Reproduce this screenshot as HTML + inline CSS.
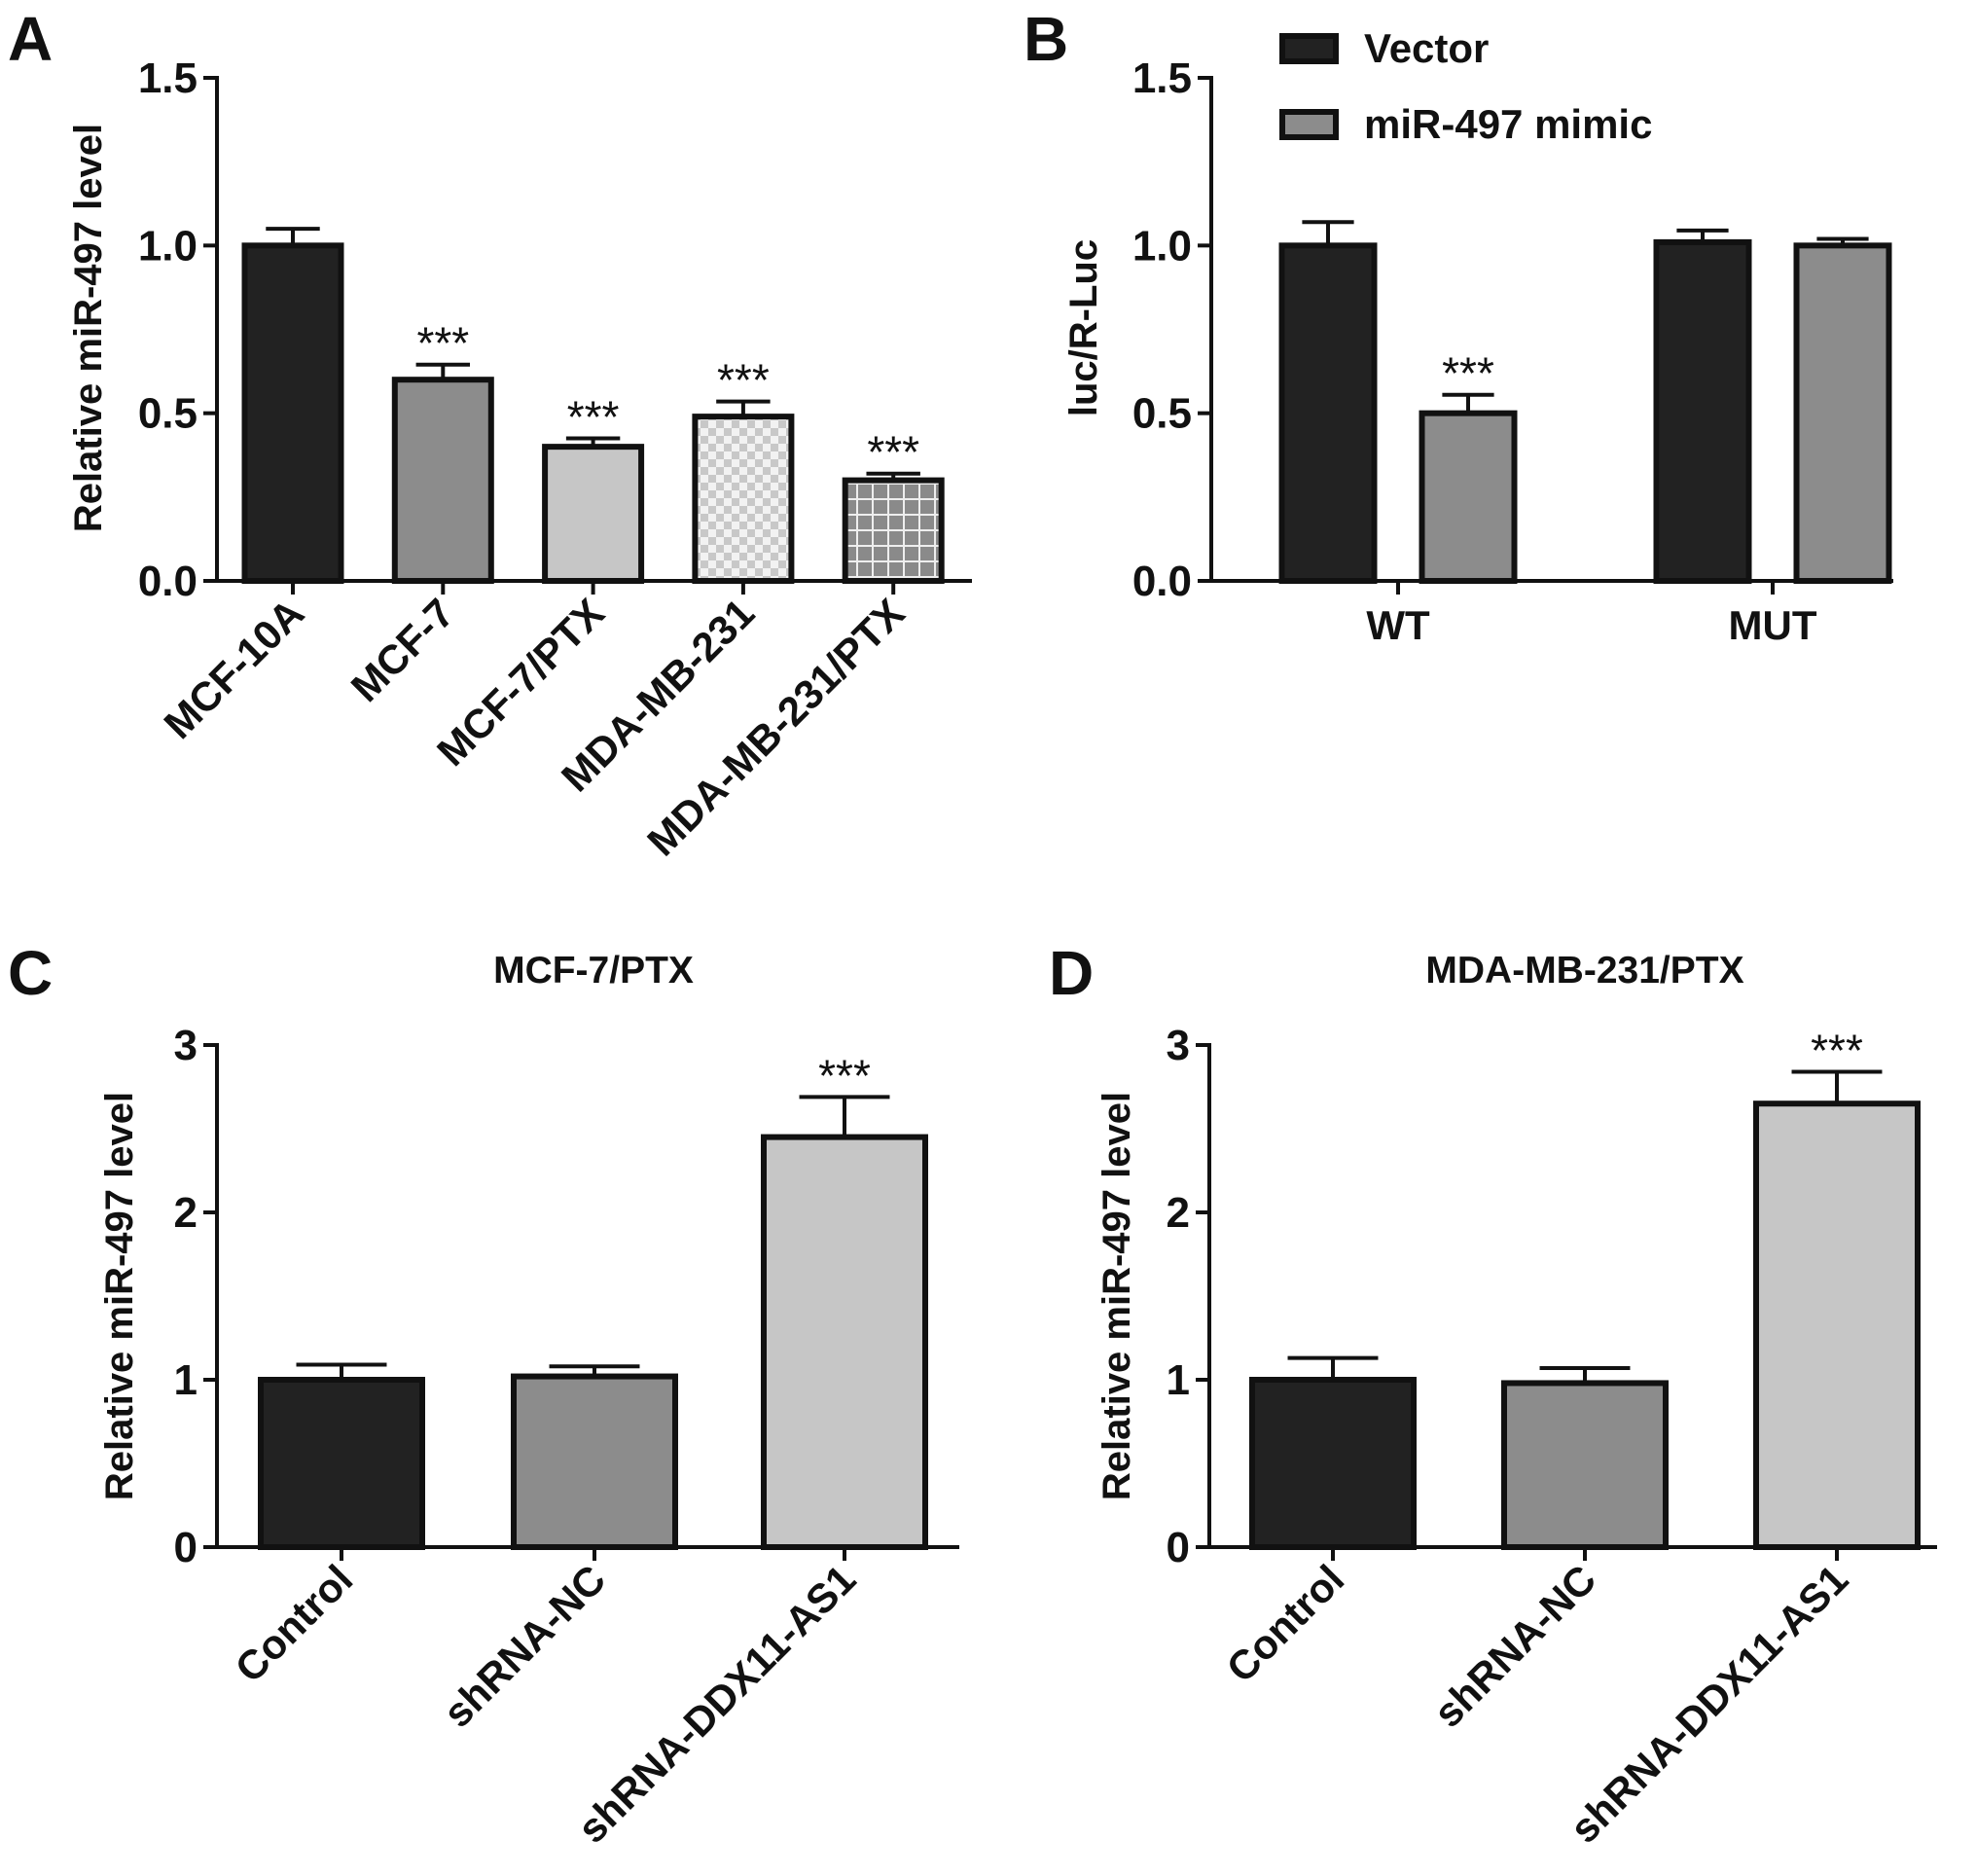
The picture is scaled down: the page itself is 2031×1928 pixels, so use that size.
<!DOCTYPE html>
<html><head><meta charset="utf-8"><style>
html,body{margin:0;padding:0;background:#fff;}
svg{display:block;font-family:"Liberation Sans",Arial,sans-serif;}
</style></head><body>
<svg id="fig" width="2031" height="1928" viewBox="0 0 2031 1928" xmlns="http://www.w3.org/2000/svg">
<defs>
<pattern id="checker" width="16" height="16" patternUnits="userSpaceOnUse">
<rect width="16" height="16" fill="#f2f2f2"/><rect width="8" height="8" fill="#c8c8c8"/><rect x="8" y="8" width="8" height="8" fill="#c8c8c8"/>
</pattern>
<pattern id="grid" width="16" height="16" patternUnits="userSpaceOnUse">
<rect width="16" height="16" fill="#8a8a8a"/><rect x="0" y="0" width="2" height="16" fill="#eee"/><rect x="0" y="0" width="16" height="2" fill="#eee"/>
</pattern>
</defs>
</svg>
<script>
// Panel A data
const aCategories = ["MCF-10A","MCF-7","MCF-7/PTX","MDA-MB-231","MDA-MB-231/PTX"];
const aValues = [1.0, 0.60, 0.40, 0.49, 0.30];
const aErrors = [0.05, 0.045, 0.025, 0.045, 0.02];
const aSig = ["","***","***","***","***"];
const aTicks = ["0.0","0.5","1.0","1.5"];
// Panel B data
const bGroups = ["WT","MUT"];
const bSeries = ["Vector","miR-497 mimic"];
const bVector = [1.0, 1.01];
const bVectorErr = [0.07, 0.035];
const bMimic = [0.50, 1.0];
const bMimicErr = [0.055, 0.02];
const bSig = ["***",""];
const bTicks = ["0.0","0.5","1.0","1.5"];
// Panel C data
const cCategories = ["Control","shRNA-NC","shRNA-DDX11-AS1"];
const cValues = [1.0, 1.02, 2.45];
const cErrors = [0.09, 0.06, 0.24];
const cSig = ["","","***"];
// Panel D data
const dCategories = ["Control","shRNA-NC","shRNA-DDX11-AS1"];
const dValues = [1.0, 0.98, 2.65];
const dErrors = [0.13, 0.09, 0.19];
const dSig = ["","","***"];
const cdTicks = ["0","1","2","3"];

const svg = document.getElementById('fig');
const NS = "http://www.w3.org/2000/svg";
function el(tag, attrs, parent, text){
  const e = document.createElementNS(NS, tag);
  for (const k in attrs) e.setAttribute(k, attrs[k]);
  if (text !== undefined) e.textContent = text;
  (parent||svg).appendChild(e);
  return e;
}
function panel(cfg){
  const g = el('g', {});
  
  
  const y = v => cfg.y0 - (v - cfg.min) / (cfg.max - cfg.min) * (cfg.y0 - cfg.y1);
  cfg.ticks.forEach(t => {
    const yy = y(parseFloat(t));
    const l = el('line', {x1:cfg.ax-14, x2:cfg.ax, y1:yy, y2:yy, stroke:'#111','stroke-width':4}, g);
    
    
    const tx = el('text', {x:cfg.ax-20, y:yy+15, 'text-anchor':'end','font-size':44,'font-weight':'bold',fill:'#111'}, g, t);
    
    
  });
  const ya = el('line', {x1:cfg.ax, x2:cfg.ax, y1:cfg.y1-2, y2:cfg.y0+2, stroke:'#111','stroke-width':4}, g);
  
  
  const xa = el('line', {x1:cfg.ax-2, x2:cfg.xend, y1:cfg.y0, y2:cfg.y0, stroke:'#111','stroke-width':4}, g);
  
  
  const yt = el('text', {x:0, y:0, transform:`translate(${cfg.ytx},${cfg.yty}) rotate(-90)`, 'text-anchor':'middle','font-size':40,'font-weight':'bold',fill:'#111'}, g, cfg.ytitle);
  
  
  const pl = el('text', {x:cfg.lx, y:cfg.ly, 'font-size':64,'font-weight':'bold',fill:'#111'}, g, cfg.letter);
  
  
  if (cfg.title){
    const tt = el('text', {x:cfg.tx, y:cfg.ty, 'text-anchor':'middle','font-size':39,'font-weight':'bold',fill:'#111'}, g, cfg.title);
    
    
  }
  cfg.bars.forEach(b => {
    const top = y(b.v), et = y(b.v + b.e);
    const eb = el('line', {x1:b.cx, x2:b.cx, y1:et, y2:top, stroke:'#111','stroke-width':4}, g);
    
    
    const cap = el('line', {x1:b.cx-b.w*0.28, x2:b.cx+b.w*0.28, y1:et, y2:et, stroke:'#111','stroke-width':4}, g);
    
    
    const r = el('rect', {x:b.cx-b.w/2, y:top, width:b.w, height:cfg.y0-top, fill:b.fill, stroke:'#111','stroke-width':6}, g);
    
    
    if (b.sig){
      const s = el('text', {x:b.cx, y:et-6, 'text-anchor':'middle','font-size':46,fill:'#111'}, g, b.sig);
      
      
    }
  });
  cfg.xlabels.forEach(xl => {
    const t = el('line', {x1:xl.cx, x2:xl.cx, y1:cfg.y0, y2:cfg.y0+14, stroke:'#111','stroke-width':4}, g);
    
    
    let tx;
    if (cfg.rot){
      tx = el('text', {x:0, y:0, transform:`translate(${xl.cx+14},${cfg.y0+36}) rotate(-45)`, 'text-anchor':'end','font-size':42,'font-weight':'bold',fill:'#111'}, g, xl.text);
    } else {
      tx = el('text', {x:xl.cx, y:cfg.y0+60, 'text-anchor':'middle','font-size':42,'font-weight':'bold',fill:'#111'}, g, xl.text);
    }
    
    
  });
}
// Panel A
const aFills = ['#222','#8c8c8c','#c6c6c6','url(#checker)','url(#grid)'];
const aCenters = aCategories.map((c,i)=>301 + i*154.3);
panel({name:'panel-a', letter:'A', lx:8, ly:62, ax:223, y0:597, y1:80, min:0, max:1.5, xend:999,
  ticks:aTicks, ytitle:'Relative miR-497 level', ytx:104, yty:337, rot:true,
  bars:aCategories.map((c,i)=>({label:c, cx:aCenters[i], w:99, v:aValues[i], e:aErrors[i], sig:aSig[i], fill:aFills[i]})),
  xlabels:aCategories.map((c,i)=>({cx:aCenters[i], text:c}))});
// Panel B
const bCenters = [1437, 1822];
const bBars = [];
bGroups.forEach((gname,i)=>{
  bBars.push({label:gname+'-'+bSeries[0], cx:bCenters[i]-72, w:95, v:bVector[i], e:bVectorErr[i], sig:'', fill:'#222'});
  bBars.push({label:gname+'-'+bSeries[1], cx:bCenters[i]+72, w:95, v:bMimic[i], e:bMimicErr[i], sig:bSig[i], fill:'#8c8c8c'});
});
panel({name:'panel-b', letter:'B', lx:1052, ly:62, ax:1245, y0:597, y1:80, min:0, max:1.5, xend:1946,
  ticks:bTicks, ytitle:'luc/R-Luc', ytx:1127, yty:337, rot:false,
  bars:bBars, xlabels:bGroups.map((gname,i)=>({cx:bCenters[i], text:gname}))});
// legend B
const legFills = ['#222','#8c8c8c'];
bSeries.forEach((s,i)=>{
  const yy = 50 + i*78;
  const r = el('rect', {x:1318, y:yy-13, width:55, height:26, fill:legFills[i], stroke:'#111','stroke-width':6});
  
  
  const t = el('text', {x:1402, y:yy+14, 'font-size':42,'font-weight':'bold',fill:'#111'}, svg, s);
  
  
});
// Panel C
const cdFills = ['#222','#8c8c8c','#c6c6c6'];
const cCenters = [351, 611, 868];
panel({name:'panel-c', letter:'C', lx:8, ly:1022, ax:223, y0:1590, y1:1074, min:0, max:3, xend:986,
  ticks:cdTicks, ytitle:'Relative miR-497 level', ytx:136, yty:1332, rot:true, title:'MCF-7/PTX', tx:610, ty:1010,
  bars:cCategories.map((c,i)=>({label:c, cx:cCenters[i], w:166, v:cValues[i], e:cErrors[i], sig:cSig[i], fill:cdFills[i]})),
  xlabels:cCategories.map((c,i)=>({cx:cCenters[i], text:c}))});
// Panel D
const dCenters = [1370, 1629, 1888];
panel({name:'panel-d', letter:'D', lx:1078, ly:1022, ax:1243, y0:1590, y1:1074, min:0, max:3, xend:1991,
  ticks:cdTicks, ytitle:'Relative miR-497 level', ytx:1161, yty:1332, rot:true, title:'MDA-MB-231/PTX', tx:1629, ty:1010,
  bars:dCategories.map((c,i)=>({label:c, cx:dCenters[i], w:166, v:dValues[i], e:dErrors[i], sig:dSig[i], fill:cdFills[i]})),
  xlabels:dCategories.map((c,i)=>({cx:dCenters[i], text:c}))});
</script>
</body></html>
